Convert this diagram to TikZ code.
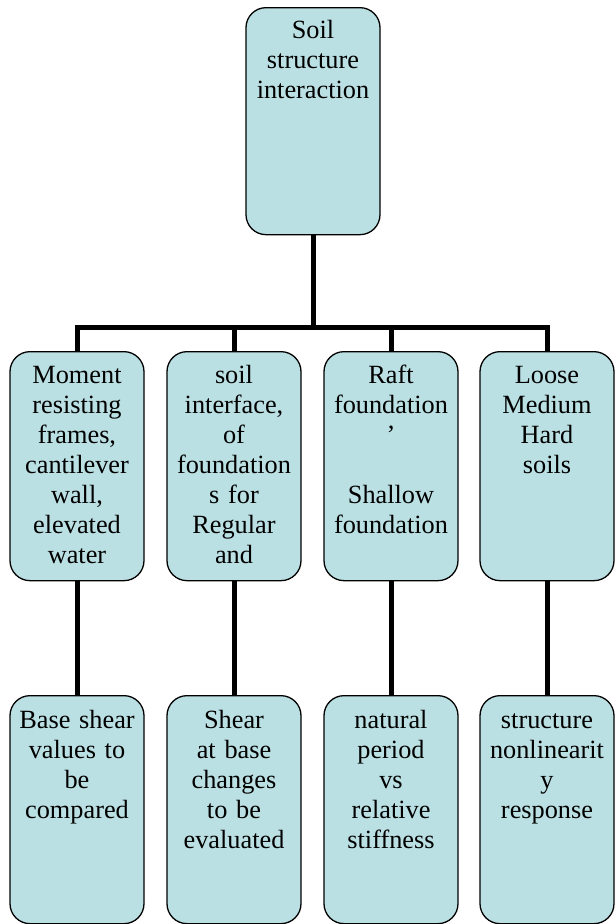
\documentclass[tikz,border=0pt]{standalone}
\usepackage{fontspec}
\setmainfont{Liberation Serif}
\usepackage{tikz}
\definecolor{boxblue}{RGB}{187,224,227}

\begin{document}
\begin{tikzpicture}[x=1pt,y=-1pt,
  every node/.style={draw=black, line width=1.3pt, fill=boxblue, rounded corners=20pt,
    inner xsep=0pt, inner ysep=0pt, align=center, text width=134pt,
    font=\fontsize{26.3}{30}\selectfont},
  top/.style={text height=31pt, text depth=196pt},
  mid/.style={text height=32pt, text depth=197pt},
  low/.style={text height=33pt, text depth=195pt},
  conn/.style={line width=5pt}]
\useasboundingbox (0,0) rectangle (614,924);

\node[top, anchor=north] (root) at (313,7) {Soil\\structure\\interaction};

\node[mid, anchor=north] (m1) at (77,351) {Moment\\resisting\\frames,\\cantilever\\wall,\\elevated\\water};
\node[mid, anchor=north] (m2) at (234,351) {soil\\interface,\\of\\foundation\\s for\\Regular\\and};
\node[mid, anchor=north] (m3) at (391,351) {Raft\\foundation\\’\\[30pt]Shallow\\foundation};
\node[mid, anchor=north] (m4) at (547,351) {Loose\\Medium\\Hard\\soils};

\node[low, anchor=north] (b1) at (77,695) {Base shear\\values to\\be\\compared};
\node[low, anchor=north] (b2) at (234,695) {Shear\\at base\\changes\\to be\\evaluated};
\node[low, anchor=north] (b3) at (391,695) {natural\\period\\vs\\relative\\stiffness};
\node[low, anchor=north] (b4) at (547,695) {structure\\nonlinearit\\y\\response};

\coordinate (bar) at (313,327);
\draw[conn] (root.south) -- (root.south |- bar);
\draw[conn] (m1.north) -- (m1.north |- bar) -- (m4.north |- bar) -- (m4.north);
\draw[conn] (m2.north) -- (m2.north |- bar);
\draw[conn] (m3.north) -- (m3.north |- bar);

\draw[conn] (m1.south) -- (b1.north);
\draw[conn] (m2.south) -- (b2.north);
\draw[conn] (m3.south) -- (b3.north);
\draw[conn] (m4.south) -- (b4.north);
\end{tikzpicture}
\end{document}
